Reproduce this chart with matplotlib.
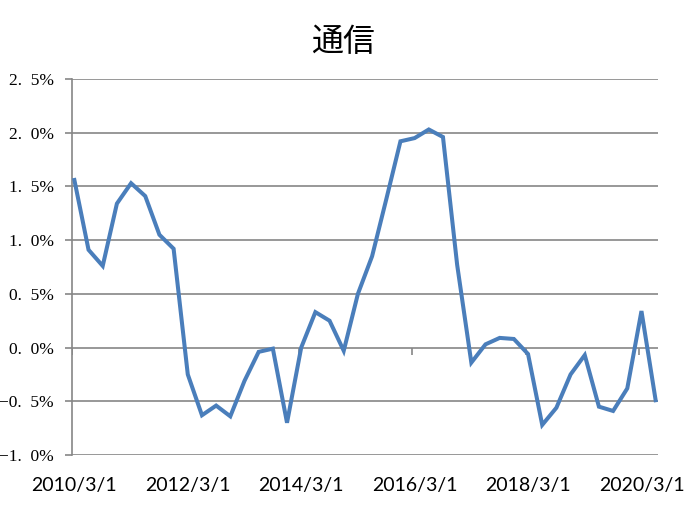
import matplotlib
matplotlib.use("Agg")
import matplotlib.pyplot as plt
import numpy as np
import pandas as pd

TITLE = "通信"

# quarterly, 2010/3/1 .. 2020/6/1
dates = pd.date_range("2010-03-01", periods=42, freq="3MS")
values = [1.56, 0.91, 0.76, 1.34, 1.53, 1.41, 1.05, 0.92,
          -0.25, -0.63, -0.54, -0.64, -0.31, -0.04, -0.01, -0.70,
          0.00, 0.33, 0.25, -0.03, 0.50, 0.85, 1.38, 1.92,
          1.95, 2.03, 1.96, 0.77, -0.14, 0.03, 0.09, 0.08,
          -0.06, -0.72, -0.56, -0.25, -0.07, -0.55, -0.59, -0.38,
          0.34, -0.49]
y_ticks = [-1.0, -0.5, 0.0, 0.5, 1.0, 1.5, 2.0, 2.5]
label_every = 8

LINE_COLOR = "#4A7EBB"
GRID_COLOR = "#868686"

fig = plt.figure(figsize=(6.87, 5.15), dpi=100)
ax = fig.add_axes([72 / 687, 60 / 515, 586 / 687, 376 / 515])

x = np.arange(len(values))
ax.plot(x, values, color=LINE_COLOR, lw=2.9, solid_joinstyle="miter", zorder=3)

ax.set_ylim(y_ticks[0], y_ticks[-1])
ax.set_xlim(-1 / 6, len(values) - 1 + 1 / 6)

# wide gap after the period, as in the original labels
ax.set_yticks(y_ticks)
ax.set_yticklabels([f"{v:.1f}%".replace(".", ".  ").replace("-", "\u2212") for v in y_ticks],
                   family="Liberation Serif", fontsize=12.5)
ax.yaxis.grid(True, color=GRID_COLOR, lw=1.2)
ax.set_axisbelow(True)
ax.tick_params(axis="y", length=5, width=1.2, color=GRID_COLOR, pad=8)

lab_idx = x[::label_every]
ax.set_xticks(lab_idx)
ax.set_xticklabels([f"{d.year}/{d.month}/{d.day}" for d in dates[::label_every]],
                   family="Lato", fontsize=14)
ax.tick_params(axis="x", length=0, pad=16)

# small tick marks on the zero line, half a month left of each label date
ax.vlines(lab_idx - 1 / 6, 0, -0.065, color=GRID_COLOR, lw=1.2, zorder=2)

for s in ["top", "right", "bottom"]:
    ax.spines[s].set_visible(False)
ax.spines["left"].set_color(GRID_COLOR)
ax.spines["left"].set_linewidth(1.2)

fig.text(343 / 687, 1 - 42 / 515, TITLE, family="Noto Sans CJK JP", fontsize=23,
         ha="center", va="center")

fig.savefig("out.png", dpi=100)
